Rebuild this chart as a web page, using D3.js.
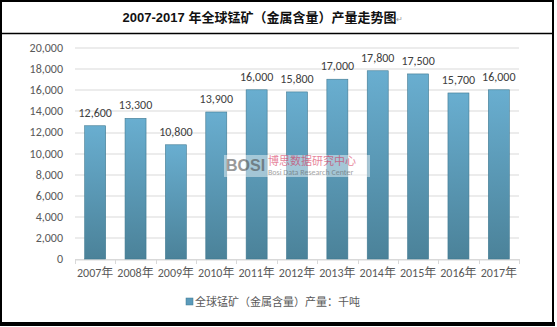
<!DOCTYPE html>
<meta charset="utf-8">
<html>
<head>
<script src="https://d3js.org/d3.v7.min.js"></script>
<style>
  body { margin: 0; background: #fff; }
  svg text { font-family: Calibri, Carlito, "Noto Sans CJK SC", "Liberation Sans", sans-serif; }
</style>
</head>
<body>
<div id="my_dataviz"></div>
<script>

// data
var years = ["2007年", "2008年", "2009年", "2010年", "2011年", "2012年", "2013年", "2014年", "2015年", "2016年", "2017年"];
var output = [12600, 13300, 10800, 13900, 16000, 15800, 17000, 17800, 17500, 15700, 16000];
var yTicks = [0, 2000, 4000, 6000, 8000, 10000, 12000, 14000, 16000, 18000, 20000];
var title = "2007-2017 年全球锰矿（金属含量）产量走势图";
var seriesName = "全球锰矿（金属含量）产量：千吨";

var W = 557, H = 327;
var margin = {top: 47.5, left: 75, right: 38, bottom: 68};
var width = W - margin.left - margin.right,
    height = H - margin.top - margin.bottom;

var svg = d3.select("#my_dataviz").append("svg")
    .attr("width", W).attr("height", H);

var defs = svg.append("defs");
var grad = defs.append("linearGradient").attr("id", "barGrad")
    .attr("x1", 0).attr("y1", 0).attr("x2", 0).attr("y2", 1);
grad.append("stop").attr("offset", "0%").attr("stop-color", "#69aed0");
grad.append("stop").attr("offset", "100%").attr("stop-color", "#4b8299");

// frame + title box
svg.append("rect").attr("x", 1).attr("y", 1).attr("width", 552).attr("height", 323)
    .attr("fill", "none").attr("stroke", "#000").attr("stroke-width", 2);
svg.append("rect").attr("x", 0).attr("y", 322).attr("width", 555).attr("height", 4).attr("fill", "#000");
svg.append("line").attr("x1", 1).attr("x2", 553).attr("y1", 33.5).attr("y2", 33.5)
    .attr("stroke", "#000").attr("stroke-width", 1.5);

var t = svg.append("text").attr("x", 263).attr("y", 22).attr("text-anchor", "middle")
    .style("font-size", "13px").style("font-weight", "bold").style("fill", "#111")
    .style("font-family", "'Liberation Sans', 'Noto Sans CJK SC', sans-serif");
t.append("tspan").text(title);
t.append("tspan").text("↵").style("font-size", "8px").style("font-weight", "normal").style("fill", "#999");

var g = svg.append("g").attr("transform", "translate(" + margin.left + "," + margin.top + ")");

var x = d3.scaleBand().domain(years).range([0, width]).paddingInner(0.48).paddingOuter(0.24);
var y = d3.scaleLinear().domain([0, 20000]).range([height, 0]);

// gridlines
g.selectAll(".grid").data(yTicks).enter().append("line")
    .attr("x1", 0).attr("x2", width)
    .attr("y1", function(d) { return Math.round(y(d)) + 0.5; })
    .attr("y2", function(d) { return Math.round(y(d)) + 0.5; })
    .attr("stroke", "#d9d9d9");

// y axis
var yAxis = g.append("g").call(d3.axisLeft(y).tickValues(yTicks).tickSize(0).tickPadding(12)
    .tickFormat(d3.format(",")));
yAxis.select(".domain").remove();
yAxis.selectAll("text").style("font-size", "12px").style("fill", "#595959");

// x axis
var xAxis = g.append("g").attr("transform", "translate(0," + height + ")")
    .call(d3.axisBottom(x).tickSize(0).tickPadding(9));
xAxis.select(".domain").attr("stroke", "#d9d9d9");
xAxis.selectAll("text").style("font-size", "12px").style("fill", "#595959");
g.selectAll(".xtick").data(d3.range(years.length + 1)).enter().append("line")
    .attr("x1", function(i) { return Math.round(i * width / years.length) + 0.5; })
    .attr("x2", function(i) { return Math.round(i * width / years.length) + 0.5; })
    .attr("y1", height).attr("y2", height + 5)
    .attr("stroke", "#d9d9d9");

// bars
g.selectAll(".bar").data(output).enter().append("rect")
    .attr("x", function(d, i) { return x(years[i]); })
    .attr("y", function(d) { return y(d); })
    .attr("width", x.bandwidth())
    .attr("height", function(d) { return height - y(d); })
    .attr("fill", "url(#barGrad)")
    .attr("stroke", "#3f7890").attr("stroke-width", 0.6);

// value labels
g.selectAll(".lbl").data(output).enter().append("text")
    .attr("x", function(d, i) { return x(years[i]) + x.bandwidth() / 2; })
    .attr("y", function(d) { return y(d) - 9; })
    .attr("text-anchor", "middle")
    .style("font-size", "12px").style("fill", "#404040")
    .text(function(d) { return d3.format(",")(d); });

// watermark
var wm = svg.append("g").attr("opacity", 0.75);
wm.append("rect").attr("x", 224).attr("y", 155).attr("width", 146).attr("height", 22).attr("fill", "#fff").attr("opacity", 0.6);
wm.append("text").attr("x", 226).attr("y", 171).text("BOSI")
    .style("font-size", "16px").style("font-weight", "bold").style("fill", "#777")
    .style("font-family", "'Liberation Sans', sans-serif");
wm.append("text").attr("x", 268).attr("y", 165).text("博思数据研究中心")
    .style("font-size", "11px").style("fill", "#e05a7a");
wm.append("text").attr("x", 268).attr("y", 175).text("Bosi Data Research Center")
    .style("font-size", "8px").style("fill", "#888");

// legend
var legend = svg.append("g").attr("transform", "translate(186,302)");
legend.append("rect").attr("x", 0).attr("y", -4).attr("width", 7).attr("height", 7)
    .attr("fill", "#5b9bbb").attr("stroke", "#3f7890").attr("stroke-width", 0.5);
legend.append("text").attr("x", 9).attr("y", 4).text(seriesName)
    .style("font-size", "11px").style("fill", "#595959")
    .style("font-family", "'Noto Sans CJK SC', sans-serif");

</script>
</body>
</html>
